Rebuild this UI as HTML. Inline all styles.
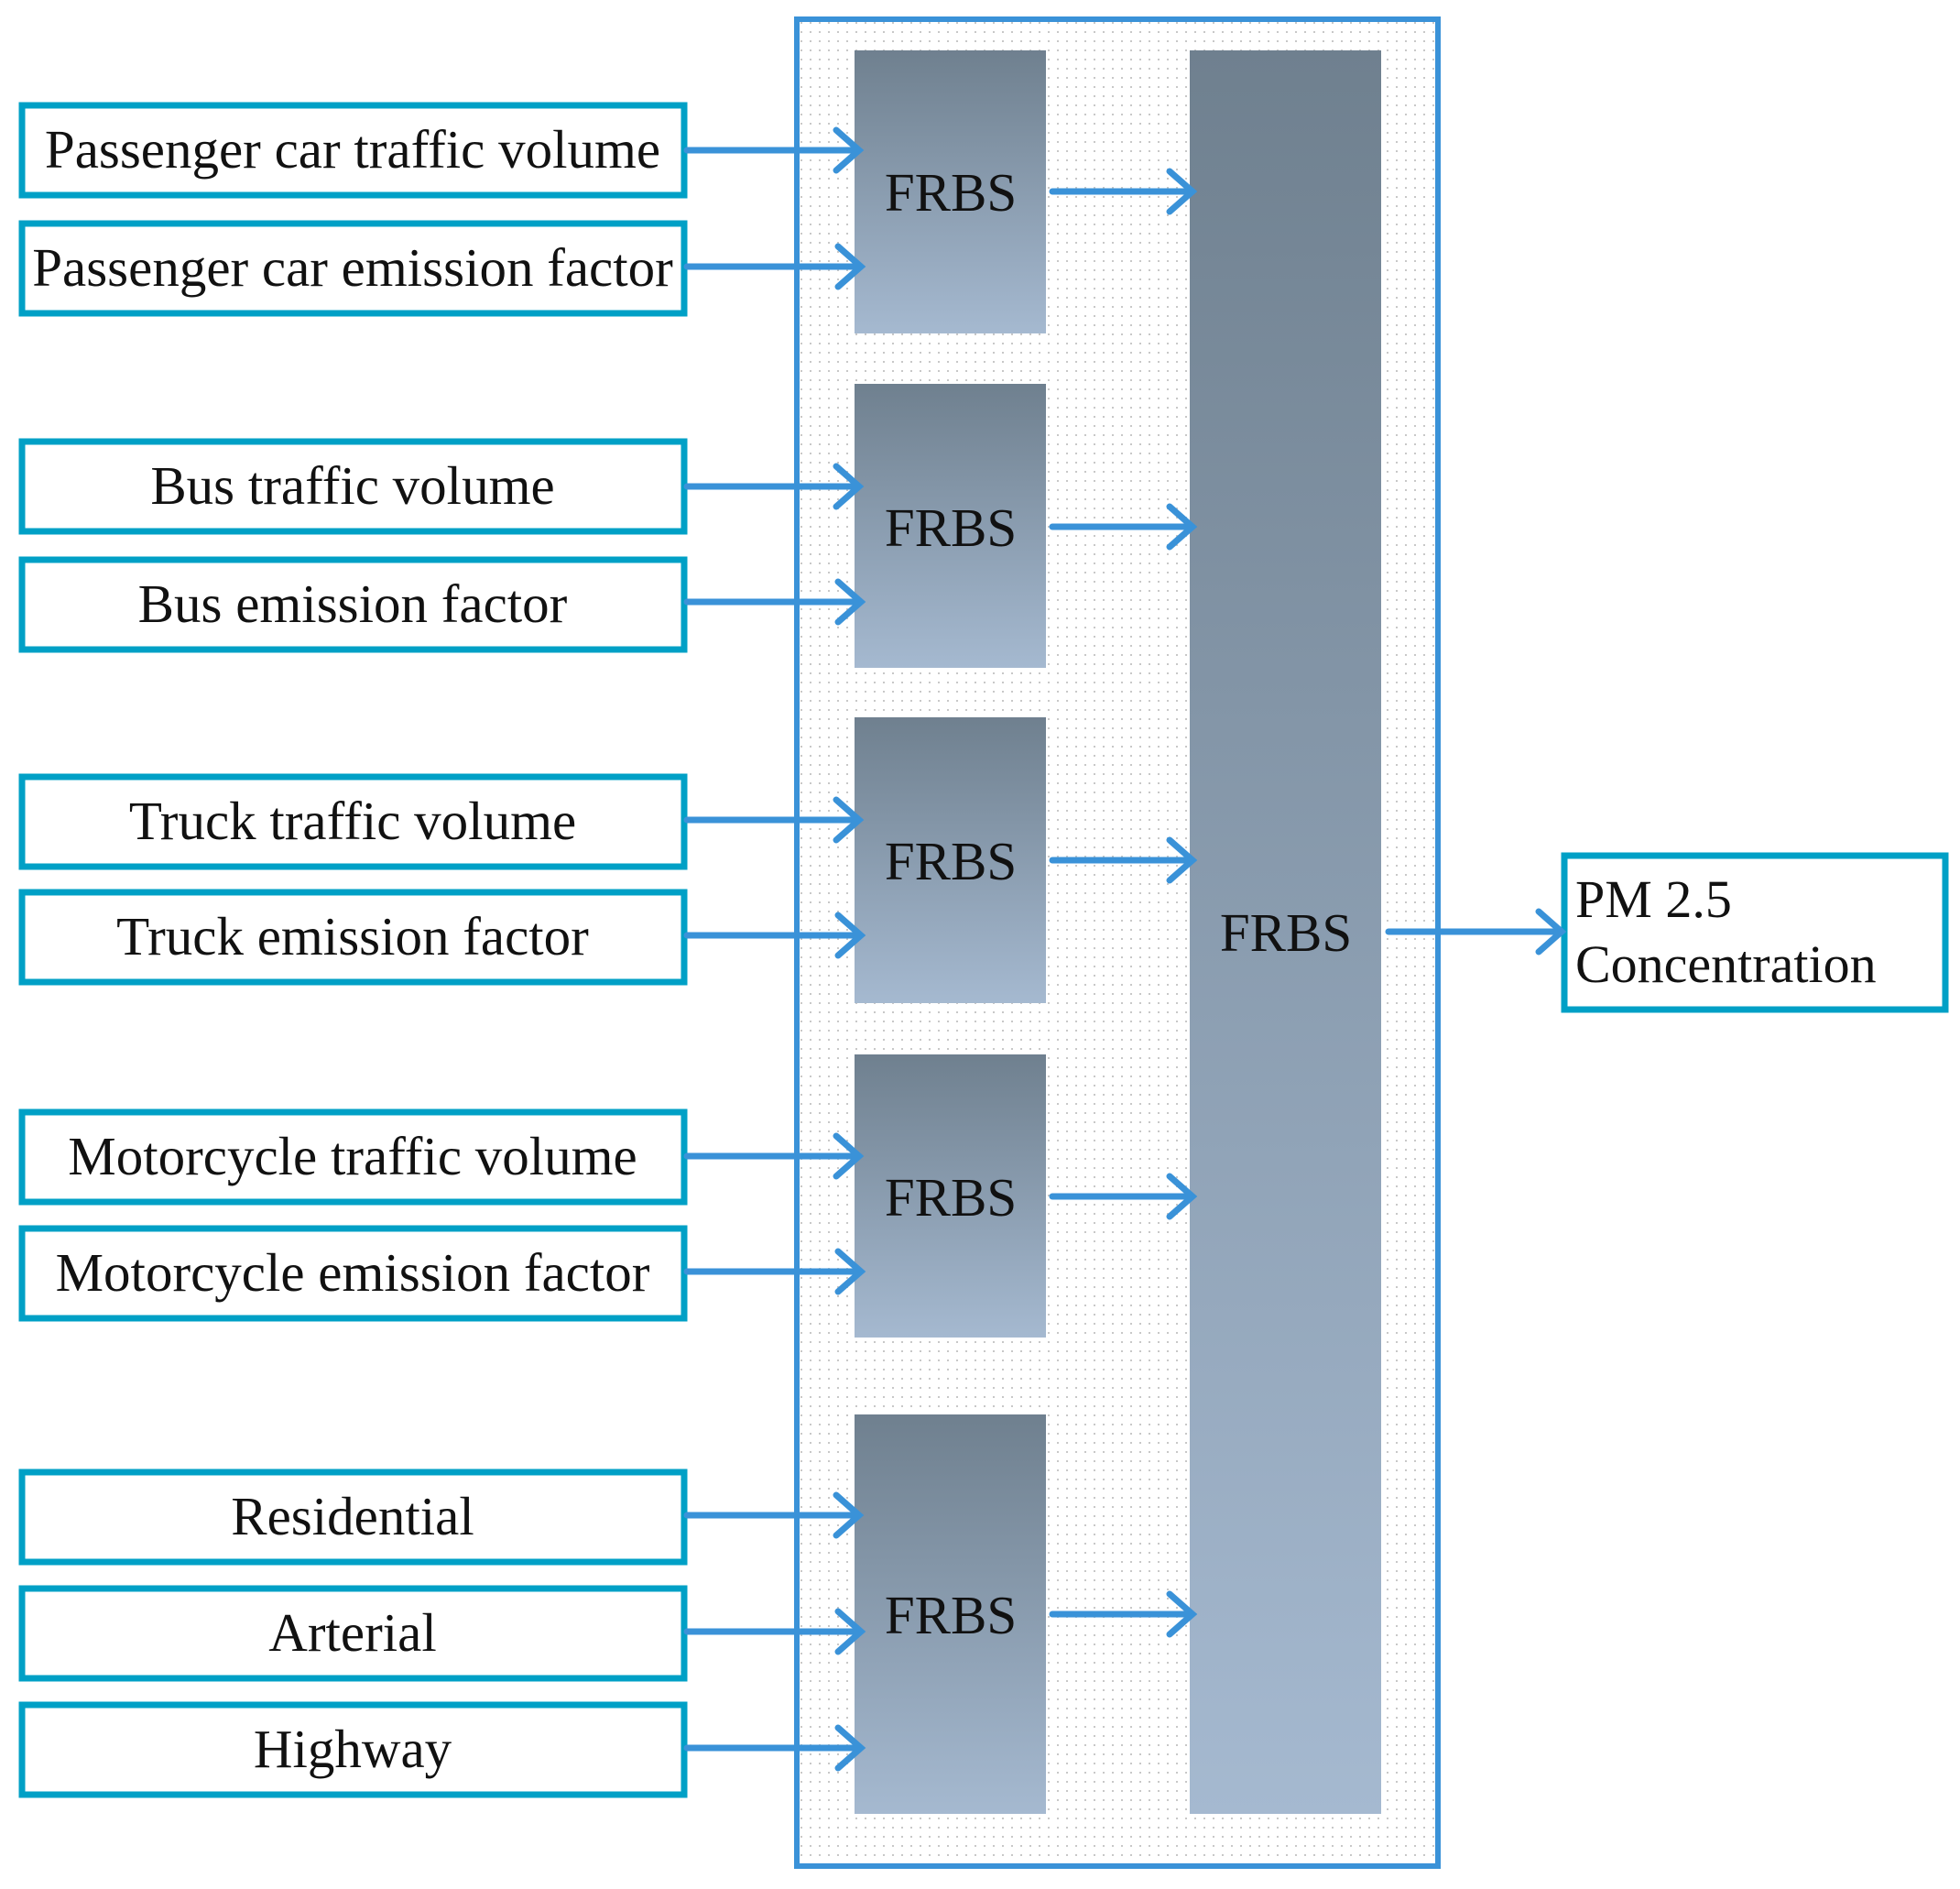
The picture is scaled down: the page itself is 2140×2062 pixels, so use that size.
<!DOCTYPE html>
<html><head><meta charset="utf-8"><style>html,body{margin:0;padding:0;background:#fff}svg{display:block}</style></head>
<body>
<svg width="2140" height="2062" viewBox="0 0 2140 2062" xmlns="http://www.w3.org/2000/svg" font-family="'Liberation Serif', serif">
<defs>
<pattern id="dots" width="10" height="10" patternUnits="userSpaceOnUse"><rect x="4" y="4" width="2" height="2" fill="#c8c8c8"/></pattern>
<linearGradient id="g" x1="0" y1="0" x2="0" y2="1"><stop offset="0" stop-color="#6f808f"/><stop offset="1" stop-color="#a5b9d0"/></linearGradient>
</defs>
<rect x="870" y="21" width="700" height="2016" fill="#fff"/>
<rect x="870" y="21" width="700" height="2016" fill="url(#dots)" stroke="#3a92d8" stroke-width="6"/>
<g fill="url(#g)">
<rect x="933" y="55" width="209" height="309"/>
<rect x="933" y="419" width="209" height="310"/>
<rect x="933" y="783" width="209" height="312"/>
<rect x="933" y="1151" width="209" height="309"/>
<rect x="933" y="1544" width="209" height="436"/>
<rect x="1299" y="55" width="209" height="1925"/>
</g>
<g font-size="59" fill="#111" text-anchor="middle">
<text x="1038" y="230">FRBS</text>
<text x="1038" y="596">FRBS</text>
<text x="1038" y="960">FRBS</text>
<text x="1038" y="1327">FRBS</text>
<text x="1038" y="1783">FRBS</text>
<text x="1404" y="1038">FRBS</text>
</g>
<g fill="#fff" stroke="#00a0c6" stroke-width="7">
<rect x="24" y="115" width="723" height="98"/>
<rect x="24" y="244" width="723" height="98"/>
<rect x="24" y="482" width="723" height="98"/>
<rect x="24" y="611" width="723" height="98"/>
<rect x="24" y="848" width="723" height="98"/>
<rect x="24" y="974" width="723" height="98"/>
<rect x="24" y="1214" width="723" height="98"/>
<rect x="24" y="1341" width="723" height="98"/>
<rect x="24" y="1607" width="723" height="98"/>
<rect x="24" y="1734" width="723" height="98"/>
<rect x="24" y="1861" width="723" height="98"/>
<rect x="1708" y="934" width="416" height="168"/>
</g>
<g font-size="59" fill="#111" text-anchor="middle">
<text x="385" y="183">Passenger car traffic volume</text>
<text x="385" y="312">Passenger car emission factor</text>
<text x="385" y="550">Bus traffic volume</text>
<text x="385" y="679">Bus emission factor</text>
<text x="385" y="916">Truck traffic volume</text>
<text x="385" y="1042">Truck emission factor</text>
<text x="385" y="1282">Motorcycle traffic volume</text>
<text x="385" y="1409">Motorcycle emission factor</text>
<text x="385" y="1675">Residential</text>
<text x="385" y="1802">Arterial</text>
<text x="385" y="1929">Highway</text>
</g>
<g font-size="58" fill="#111">
<text x="1720" y="1001">PM 2.5</text>
<text x="1720" y="1072">Concentration</text>
</g>
<g stroke="#3a92d8" stroke-width="7" fill="none" stroke-linecap="round">
<path d="M750 164H936M913 142L938 164L913 186"/>
<path d="M750 291H938M915 269L940 291L915 313"/>
<path d="M750 531H936M913 509L938 531L913 553"/>
<path d="M750 657H938M915 635L940 657L915 679"/>
<path d="M750 895H936M913 873L938 895L913 917"/>
<path d="M750 1021H938M915 999L940 1021L915 1043"/>
<path d="M750 1262H936M913 1240L938 1262L913 1284"/>
<path d="M750 1388H938M915 1366L940 1388L915 1410"/>
<path d="M750 1654H936M913 1632L938 1654L913 1676"/>
<path d="M750 1781H938M915 1759L940 1781L915 1803"/>
<path d="M750 1908H938M915 1886L940 1908L915 1930"/>
<path d="M1149 209H1300M1277 187L1302 209L1277 231"/>
<path d="M1149 575H1300M1277 553L1302 575L1277 597"/>
<path d="M1149 939H1300M1277 917L1302 939L1277 961"/>
<path d="M1149 1306H1300M1277 1284L1302 1306L1277 1328"/>
<path d="M1149 1762H1300M1277 1740L1302 1762L1277 1784"/>
<path d="M1516 1017H1703M1680 995L1705 1017L1680 1039"/>
</g>
</svg>
</body></html>
